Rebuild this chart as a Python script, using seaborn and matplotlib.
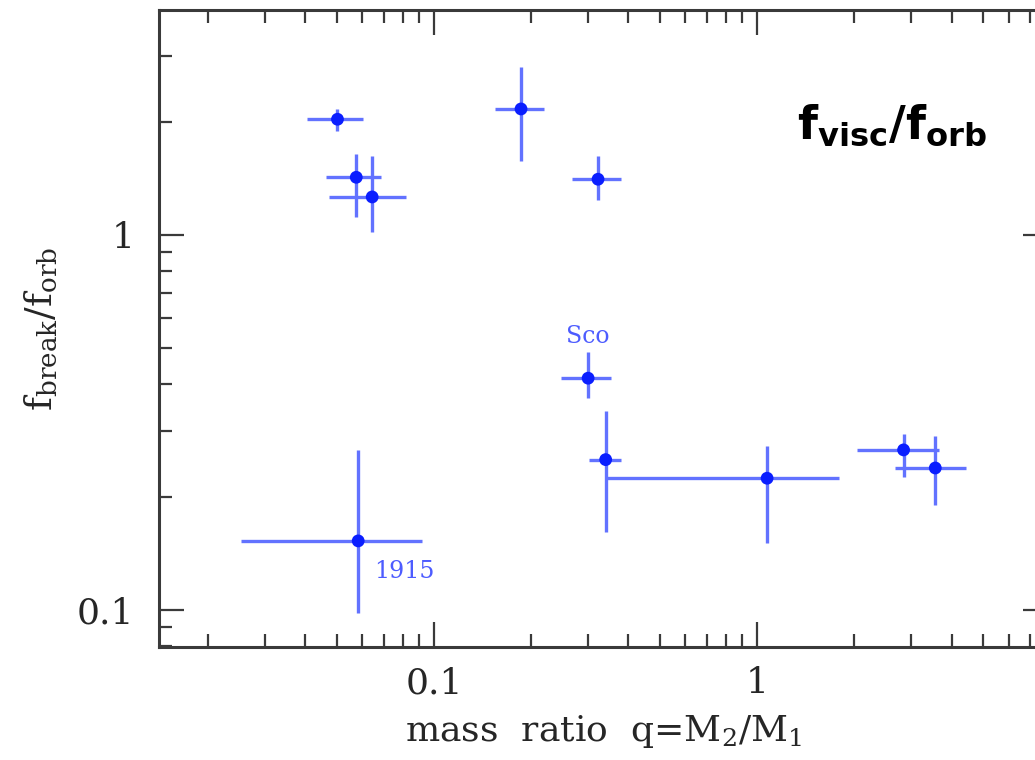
import numpy as np
import pandas as pd
import matplotlib
matplotlib.use("Agg")
import matplotlib.pyplot as plt
from matplotlib.ticker import FixedLocator, FixedFormatter, LogLocator, NullFormatter
import seaborn as sns

# mass ratio q and its range
q = [0.0503, 0.0575, 0.0644, 0.186, 0.322, 0.300, 0.340, 1.074, 2.84, 3.56, 0.0583]
q_lo = [0.0404, 0.0463, 0.0474, 0.155, 0.267, 0.248, 0.3015, 0.342, 2.04, 2.68, 0.0253]
q_hi = [0.0602, 0.0684, 0.0818, 0.219, 0.379, 0.353, 0.379, 1.79, 3.66, 4.42, 0.0916]

# break frequency relative to orbital frequency and its range
f = [2.035, 1.425, 1.263, 2.168, 1.408, 0.415, 0.2517, 0.2245, 0.2672, 0.2391, 0.1528]
f_lo = [1.897, 1.119, 1.017, 1.575, 1.240, 0.3667, 0.1611, 0.1506, 0.2267, 0.1905, 0.098]
f_hi = [2.17, 1.641, 1.624, 2.811, 1.624, 0.4885, 0.3394, 0.2743, 0.2946, 0.2911, 0.2672]

source_names = ["Sco", "1915"]
source_label_pos = [(0.300, 0.536), (0.0652, 0.1263)]

x_major = [0.1, 1]
x_major_labels = ["0.1", "1"]
y_major = [0.1, 1]
y_major_labels = ["0.1", "1"]

df = pd.DataFrame({"q": q, "q_lo": q_lo, "q_hi": q_hi,
                   "f": f, "f_lo": f_lo, "f_hi": f_hi})

sns.set_theme(style="white")
plt.rcParams["font.family"] = ["DejaVu Serif"]
plt.rcParams["mathtext.fontset"] = "dejavuserif"

fig = plt.figure(figsize=(10.35, 7.6), dpi=100)
ax = fig.add_axes([0.1541, 0.1491, 0.8585, 0.8377])

err_color = "#6272ff"
pt_color = "#0a1eff"

ax.errorbar(df["q"], df["f"],
            xerr=[df["q"] - df["q_lo"], df["q_hi"] - df["q"]],
            yerr=[df["f"] - df["f_lo"], df["f_hi"] - df["f"]],
            fmt="none", ecolor=err_color, elinewidth=2.4, capsize=0, zorder=2)
sns.scatterplot(data=df, x="q", y="f", ax=ax, color=pt_color, s=85,
                edgecolor="none", zorder=3, legend=False)

ax.set_xscale("log")
ax.set_yscale("log")
ax.set_xlim(0.01415, 7.95)
ax.set_ylim(0.0798, 3.98)

for name, (tx, ty) in zip(source_names, source_label_pos):
    ha = "center" if name == "Sco" else "left"
    ax.text(tx, ty, name, color="#4d5cff", fontsize=17, ha=ha, va="center")

ax.text(1.33, 1.96, r"$\mathbf{f_{visc}/f_{orb}}$", fontsize=33,
        color="black", ha="left", va="center",
        math_fontfamily="dejavusans")

ax.xaxis.set_major_locator(FixedLocator(x_major))
ax.xaxis.set_major_formatter(FixedFormatter(x_major_labels))
ax.yaxis.set_major_locator(FixedLocator(y_major))
ax.yaxis.set_major_formatter(FixedFormatter(y_major_labels))
ax.xaxis.set_minor_locator(LogLocator(base=10, subs=np.arange(2, 10), numticks=20))
ax.yaxis.set_minor_locator(LogLocator(base=10, subs=np.arange(2, 10), numticks=20))
ax.xaxis.set_minor_formatter(NullFormatter())
ax.yaxis.set_minor_formatter(NullFormatter())

spine_color = "#3a3a3a"
ax.tick_params(which="both", direction="in", top=True, right=True,
               bottom=True, left=True, color=spine_color, width=1.6)
ax.tick_params(which="major", length=18, labelsize=26, pad=14)
ax.tick_params(which="minor", length=9.5)
ax.tick_params(axis="y", which="major", pad=18)
for sp in ax.spines.values():
    sp.set_color(spine_color)
    sp.set_linewidth(2.2)

ax.set_xlabel(r"mass  ratio  q=M$_2$/M$_1$", fontsize=26, labelpad=9)
ax.set_ylabel(r"$\mathrm{f_{break}/f_{orb}}$", fontsize=27, labelpad=12)

fig.savefig("out.png", dpi=100)
